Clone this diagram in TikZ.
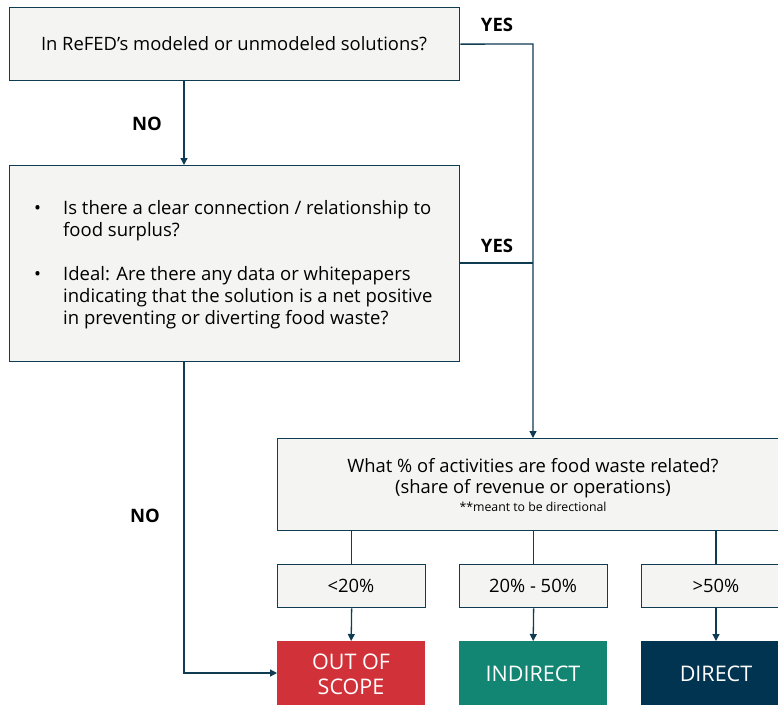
\documentclass[tikz,border=0pt]{standalone}
\usepackage{fontspec}
\setmainfont{Open Sans}
\usetikzlibrary{arrows.meta}
\definecolor{edge}{HTML}{0F3B53}
\definecolor{boxfill}{HTML}{F4F4F2}
\definecolor{outred}{HTML}{D1323A}
\definecolor{indteal}{HTML}{128673}
\definecolor{dirnavy}{HTML}{003450}
\tikzset{
  qbox/.style={draw=edge, line width=1.3pt, fill=boxfill, inner sep=0pt},
  resbox/.style={inner sep=0pt, text=white, font=\fontsize{21.5}{25}\selectfont, align=center},
  conn/.style={draw=edge, line width=1.3pt},
  arr/.style={conn, -{Triangle[length=7pt,width=7pt]}},
  lbl/.style={font=\fontsize{18.5}{22}\selectfont\bfseries, text=black},
  mtext/.style={font=\fontsize{18.4}{22}\selectfont, inner sep=0pt},
  btext/.style={font=\fontsize{18.5}{22}\selectfont, inner sep=0pt, anchor=base west},
}
\begin{document}
\begin{tikzpicture}[x=1pt,y=-1pt]
\useasboundingbox (0,0) rectangle (778,704);
\clip (0,0) rectangle (778,704);
% boxes
\node[qbox, minimum width=450pt, minimum height=73pt, anchor=north west] (q1) at (9,7) {};
\node[mtext] (q1t) at (234,44) {In ReFED’s modeled or unmodeled solutions?};
\node[qbox, minimum width=450pt, minimum height=196pt, anchor=north west] (q2) at (9,165) {};
\node[btext] (b1) at (34,214) {•};
\node[btext] (l1) at (63,214) {Is there a clear connection / relationship to};
\node[btext] (l2) at (63,236) {food surplus?};
\node[btext] (b2) at (34,280) {•};
\node[btext] (l3) at (63,280) {Ideal: Are there any data or whitepapers};
\node[btext] (l4) at (63,302) {indicating that the solution is a net positive};
\node[btext] (l5) at (63,324) {in preventing or diverting food waste?};
\node[qbox, minimum width=520pt, minimum height=92pt, anchor=north west] (q3) at (277,438) {};
\node[mtext] (q3a) at (533,466) {What \% of activities are food waste related?};
\node[mtext] (q3b) at (533,489) {(share of revenue or operations)};
\node[font=\fontsize{12.3}{14}\selectfont, inner sep=0pt] (q3c) at (533,507) {**meant to be directional};
% percentage boxes
\node[qbox, minimum width=148pt, minimum height=43pt, anchor=north west] (p1) at (277,564) {};
\node[mtext] (p1t) at (351,586) {<20\%};
\node[qbox, minimum width=148pt, minimum height=43pt, anchor=north west] (p2) at (459,564) {};
\node[mtext] (p2t) at (533,586) {20\% - 50\%};
\node[qbox, minimum width=148pt, minimum height=43pt, anchor=north west] (p3) at (641,564) {};
\node[mtext] (p3t) at (716,586) {>50\%};
% result boxes
\node[resbox, fill=outred, minimum width=148pt, minimum height=70pt, anchor=north west] (r1) at (277,641) {};
\node[resbox] (r1t) at (351,674) {OUT OF\\[0pt]SCOPE};
\node[resbox, fill=indteal, minimum width=148pt, minimum height=70pt, anchor=north west] (r2) at (459,641) {};
\node[resbox] (r2t) at (533,674) {INDIRECT};
\node[resbox, fill=dirnavy, minimum width=148pt, minimum height=70pt, anchor=north west] (r3) at (641,641) {};
\node[resbox] (r3t) at (716,674) {DIRECT};
% connectors
\coordinate (c1) at (533,44);
\coordinate (c2) at (533,263);
\coordinate (c3) at (184,673);
\draw[arr] (q1.south -| 184,0) -- (q2.north -| 184,0);
\draw[arr] (q1.east) -- (c1) -- (q3.north -| c1);
\draw[conn] (q2.east |- c2) -- (c2);
\draw[arr] (q2.south -| c3) -- (c3) -- (r1.west |- c3);
\draw[conn] (q3.south -| p1.south) -- (p1.north);
\draw[conn] (q3.south -| p2.south) -- (p2.north);
\draw[conn] (q3.south -| 716,0) -- (716,564);
\draw[arr] (p1.south) -- (r1.north);
\draw[arr] (p2.south) -- (r2.north);
\draw[arr] (716,607) -- (716,641);
% labels
\node[lbl] (yes1) at (497,25) {YES};
\node[lbl] (yes2) at (497,246) {YES};
\node[lbl] (no1) at (147,124) {NO};
\node[lbl] (no2) at (145,516) {NO};
\end{tikzpicture}
\end{document}
